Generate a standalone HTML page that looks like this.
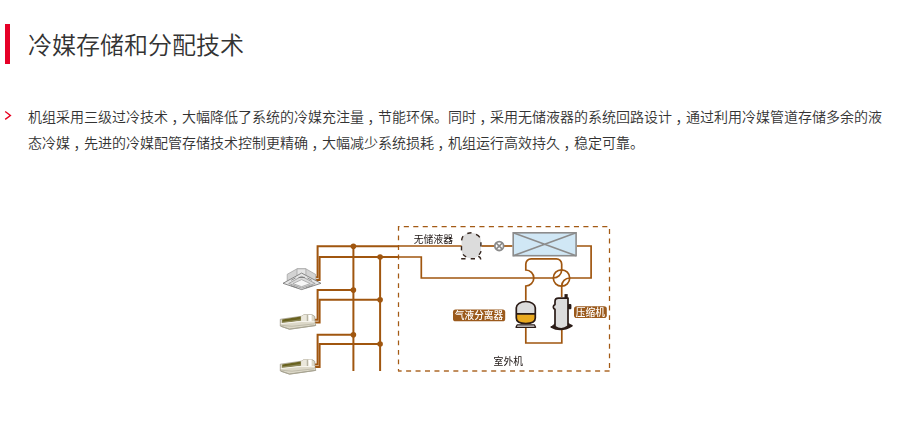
<!DOCTYPE html>
<html lang="zh-CN">
<head>
<meta charset="utf-8">
<title>冷媒存储和分配技术</title>
<style>
html,body{margin:0;padding:0;background:#fff;}
body{width:900px;height:447px;overflow:hidden;position:relative;font-family:"Liberation Sans","Noto Sans CJK SC",sans-serif;color:#333;}
.bar{position:absolute;left:5px;top:24px;width:5px;height:40px;background:#e60027;}
h2{position:absolute;left:28px;top:28px;margin:0;font-size:24px;line-height:36px;font-weight:350;color:#333;white-space:nowrap;letter-spacing:0;}
.chev{position:absolute;left:4px;top:110px;width:9px;height:12px;}
p{position:absolute;left:28px;top:104px;width:870px;margin:0;font-size:14px;line-height:26px;color:#333;font-weight:350;}
p span{display:block;white-space:nowrap;}
p i{font-style:normal;position:relative;left:3.5px;top:0.5px;}
svg.dia{position:absolute;left:0;top:0;will-change:transform;}
svg text{font-family:"Liberation Sans","Noto Sans CJK SC",sans-serif;}
</style>
</head>
<body>
<div class="bar"></div>
<h2>冷媒存储和分配技术</h2>
<svg class="chev" viewBox="0 0 9 12"><path d="M1.2 1.5 L6.4 5.45 L1.2 9.4" fill="none" stroke="#e60020" stroke-width="1.4"/></svg>
<p><span>机组采用三级过冷技术<i>，</i>大幅降低了系统的冷媒充注量<i>，</i>节能环保。同时<i>，</i>采用无储液器的系统回路设计<i>，</i>通过利用冷媒管道存储多余的液</span><span>态冷媒<i>，</i>先进的冷媒配管存储技术控制更精确<i>，</i>大幅减少系统损耗<i>，</i>机组运行高效持久<i>，</i>稳定可靠。</span></p>
<svg class="dia" width="900" height="447" viewBox="0 0 900 447">
<!-- outdoor unit dashed frame -->
<g fill="none" stroke="#a35a14" stroke-width="1.25">
<path d="M398.5 226.5 H609.5" stroke-dasharray="5.1 4.35" stroke-dashoffset="-5.3"/>
<path d="M398.5 225.9 V371" stroke-dasharray="4.9 4.64"/>
<path d="M609.5 226.5 V369" stroke-dasharray="4.9 4.67" stroke-dashoffset="-2.5"/>
<path d="M398 371 H609.8" stroke-dasharray="5 4.45" stroke-dashoffset="-8.1" stroke-width="1.5" stroke="#ad6a2a"/>
</g>
<!-- indoor side thick piping -->
<g fill="none" stroke="#a0560f" stroke-width="2" stroke-linejoin="miter">
<path d="M398.5 246.3 H317.6 V277.3 H315.5"/>
<path d="M398.5 257 H319.6 V280 H315.5"/>
<path d="M353.4 290.1 H317.6 V319.8 H315"/>
<path d="M380.1 299.7 H319.6 V322.6 H315"/>
<path d="M353.4 334.8 H317.6 V364.4 H315"/>
<path d="M380.1 344 H319.6 V366.9 H315"/>
<path d="M353.4 246.3 V371"/>
<path d="M380.1 257 V371"/>
</g>
<g fill="#a0560f">
<circle cx="353.4" cy="246.3" r="2.8"/><circle cx="380.1" cy="257" r="2.8"/>
<circle cx="353.4" cy="290.1" r="2.8"/><circle cx="380.1" cy="299.7" r="2.8"/>
<circle cx="353.4" cy="334.8" r="2.8"/><circle cx="380.1" cy="344" r="2.8"/>
</g>
<!-- outdoor side thin piping -->
<g fill="none" stroke="#a0560f" stroke-width="1.7">
<path d="M398.5 246 H462"/>
<path d="M481.5 246 H494.4"/>
<path d="M504 246 H512.5"/>
<path d="M577 246 H591.1 V278 H569.7"/>
<path d="M398.5 257 H421.3 V278 H553.2"/>
<path d="M561.7 270 V264.2 A5.3 5.3 0 0 0 556.4 258.9 H531.1 A5.3 5.3 0 0 0 525.8 264.2 V270 A8 8 0 0 1 525.8 286 V300.5"/>
<path d="M525.8 327.5 V343 H561.8 V329.5"/>
<path d="M561.7 297 V286.2"/>
<circle cx="561.5" cy="278" r="8.2"/>
<path d="M561.7 269.8 A8.4 8.2 0 0 1 553.3 278"/>
<path d="M561.7 286.2 A8 8.2 0 0 1 569.7 278"/>
</g>
<!-- cassette indoor unit -->
<g id="cassette" stroke-linejoin="round">
<path d="M287.2 274.3 L297 268.8 H305.9 L315.8 274.5 V283.5 L301.6 289 L287.2 283.5 Z" fill="#d3d3d3" stroke="#9e9e9e" stroke-width="0.7"/>
<path d="M297 268.8 H305.9 V280 H297 Z" fill="#e4e4e4" stroke="#9e9e9e" stroke-width="0.7"/>
<path d="M283 283.3 L301.6 273.1 L321 283.3 L301.6 289.6 Z" fill="#e6e6e6" stroke="#7d7d7d" stroke-width="0.9"/>
<path d="M288.7 283.5 L301.6 276.3 L315.2 283.5 L301.6 288.1 Z" fill="#dadada" stroke="#8c8c8c" stroke-width="0.7"/>
<path d="M293 283.6 L301.6 279.6 L310.2 283.6 L301.6 286.7 Z" fill="#f7f7f7" stroke="#9a9a9a" stroke-width="0.7"/>
<path d="M298.6 277.4 H304.8" stroke="#7a7a7a" stroke-width="1" fill="none"/>
<path d="M291.2 280.3 L295.6 277.9 M307.4 277.9 L311.8 280.3 M290.8 285.6 L297.4 287.9 M305.8 287.9 L312.6 285.6" stroke="#858585" stroke-width="0.9" fill="none"/>
</g>
<!-- duct indoor units -->
<g id="duct1" transform="translate(0 0.3)">
<path d="M280.3 319 L301.3 316 L304 314.4 H312 L314.8 316.2 V321.5 L315.8 325.2 L289.5 329 L280.3 325.8 Z" fill="#dcd8c8" stroke="#9f9b89" stroke-width="0.8" stroke-linejoin="round"/>
<path d="M282.2 319.2 L300.8 316.3 V320.2 L282.2 322.7 Z" fill="#69621f"/>
<path d="M282.2 321.4 L300.8 318.9 V320.2 L282.2 322.7 Z" fill="#8f8a5c"/>
<path d="M301.3 316 L304 314.4 H312 V321 L301.3 321.4 Z" fill="#ebe8dc"/>
<path d="M308.6 314.6 H311.4 V320.8 H309.4 Z" fill="#ffffff"/>
<path d="M307.3 314.6 V321" stroke="#a39f8e" stroke-width="0.9"/>
<path d="M280.8 323.3 L301.3 321.2 L314.8 321.5" fill="none" stroke="#f8f6ef" stroke-width="1"/>
<path d="M281 325 L292 326 L314 323.6" fill="none" stroke="#b9b5a3" stroke-width="0.8"/>
<path d="M281 326 L289.5 328.8 L315.6 325.2" fill="none" stroke="#a5a190" stroke-width="0.9"/>
</g>
<use href="#duct1" transform="translate(0 44.9)"/>
<!-- receiver (dashed) -->
<rect x="461.6" y="232.9" width="19.3" height="25.2" rx="8" ry="8" fill="#dcdcdc"/>
<g fill="none" stroke="#35261f" stroke-width="1.4">
<path d="M467.3 233.5 Q469.4 232.8 471.5 232.8"/>
<path d="M476 234.3 Q478.6 235.3 479.8 237.3"/>
<path d="M480.9 242.3 V246.6"/>
<path d="M481 251.1 Q480.6 253.2 479 254.7"/>
<path d="M463.1 236.2 Q461.9 238 461.6 240.4"/>
<path d="M461.5 246.1 V250.4"/>
<path d="M463 254.4 Q464.3 256 466.2 256.9"/>
<path d="M461.2 258.8 H465.5 M470.7 258.8 H475"/>
<path d="M478.2 256.3 Q480.7 257 480.7 259.4"/>
</g>
<!-- expansion valve -->
<g fill="none" stroke="#8a8a8a" stroke-width="1.8">
<circle cx="499.2" cy="246.1" r="4.4" fill="#fff"/>
<path d="M496.1 243 L502.3 249.2 M502.3 243 L496.1 249.2" stroke-width="1.7"/>
</g>
<!-- heat exchanger -->
<g stroke="#8c8c8c" stroke-width="1.6" fill="none">
<rect x="513.2" y="232.8" width="62.9" height="22.9" fill="#d0e7f5"/>
<path d="M513.2 232.8 L576.1 255.7 M576.1 232.8 L513.2 255.7" stroke-width="1.6"/>
</g>
<!-- accumulator -->
<g>
<path d="M516.3 307.8 A9.5 6.3 0 0 1 535.3 307.8 V313.8 H516.3 Z" fill="#dcdcdc"/>
<path d="M516.3 313.8 H535.3 V318 C535.3 322 531.6 323.5 525.8 323.5 C520 323.5 516.3 322 516.3 318 Z" fill="#e9a91f"/>
<path d="M516.3 307.8 A9.5 6.3 0 0 1 535.3 307.8 V318 C535.3 322 531.6 323.5 525.8 323.5 C520 323.5 516.3 322 516.3 318 Z M516.3 313.8 H535.3" fill="none" stroke="#2a1b16" stroke-width="1.7"/>
<path d="M517.1 324.9 H534.5 L535.6 327.3 H516 Z" fill="#e2e2e2" stroke="#2a1b16" stroke-width="1.25" stroke-linejoin="round"/>
</g>
<!-- compressor -->
<g>
<rect x="564.5" y="294.1" width="3.2" height="4.6" fill="#2a1b16"/>
<rect x="568" y="304" width="3.4" height="5.3" rx="1" fill="#2a1b16"/>
<path d="M555 323.8 L551.2 326.9 L556 328.4 Z M568 323.2 L572 325.4 L567.4 328.2 Z" fill="#2a1b16" stroke="#2a1b16" stroke-width="0.8" stroke-linejoin="round"/>
<path d="M555 326.6 V309.4 Q553.3 308.8 553.3 307 Q553.3 305.2 555 304.6 V301.4 Q555 298.1 558.6 298.1 H568 V326.2 Q561.5 331.4 555 326.6 Z" fill="#dcdcdc" stroke="#2a1b16" stroke-width="1.7" stroke-linejoin="round"/>
<path d="M551.3 327 Q561 332.4 571.9 325.7" fill="none" stroke="#2a1b16" stroke-width="1.7" stroke-linecap="round"/>
</g>
<!-- labels -->
<rect x="453" y="309.6" width="52.2" height="11.7" rx="2.6" fill="#9b5a1c"/>
<text x="479" y="319.2" font-size="9.7" font-weight="500" fill="#fff" text-anchor="middle">气液分离器</text>
<rect x="574" y="306.3" width="32.8" height="11.8" rx="2.8" fill="#9b5a1c"/>
<text x="590.4" y="316.2" font-size="9.7" font-weight="500" fill="#fff" text-anchor="middle">压缩机</text>
<text x="433.4" y="242.5" font-size="9.8" fill="#1a1210" text-anchor="middle">无储液器</text>
<text x="508.3" y="365.3" font-size="9.8" fill="#1a1210" text-anchor="middle">室外机</text>
</svg>
</body>
</html>
